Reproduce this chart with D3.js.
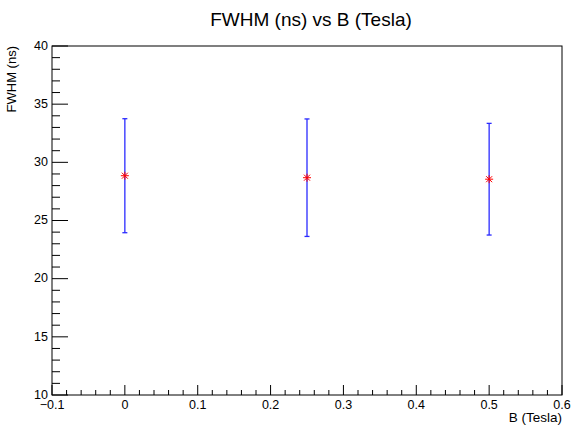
<!DOCTYPE html>
<html>
<head>
<meta charset="utf-8">
<script src="https://cdn.jsdelivr.net/npm/d3@7"></script>
<style>
  body { margin: 0; background: #fff; }
  text { font-family: "Liberation Sans", Arial, sans-serif; fill: #000; }
</style>
</head>
<body>
<svg id="chart"></svg>
<script>
// field values (Tesla) and measured FWHM (ns) with errors
const fieldB = [0, 0.25, 0.5];
const fwhm = [28.85, 28.68, 28.55];
const fwhmErr = [4.9, 5.05, 4.8];

const xTicks = [-0.1, 0, 0.1, 0.2, 0.3, 0.4, 0.5, 0.6];
const yTicks = [10, 15, 20, 25, 30, 35, 40];

const width = 571, height = 426;
const margin = { top: 46, right: 9, bottom: 31, left: 52 };
const innerW = width - margin.left - margin.right;
const innerH = height - margin.top - margin.bottom;

const svg = d3.select("#chart")
  .attr("width", width)
  .attr("height", height);

const xScale = d3.scaleLinear().domain([-0.1, 0.6]).range([0, innerW]);
const yScale = d3.scaleLinear().domain([10, 40]).range([innerH, 0]);

const g = svg.append("g")
  .attr("transform", `translate(${margin.left}, ${margin.top})`);

// frame
g.append("rect")
  .attr("x", 0).attr("y", 0)
  .attr("width", innerW).attr("height", innerH)
  .attr("fill", "none")
  .attr("stroke", "#000")
  .attr("stroke-width", 1);

// x axis: major + minor ticks pointing up
const xMinor = d3.range(-0.1, 0.6001, 0.02).filter(v => Math.abs(Math.round(v * 10) - v * 10) > 1e-6);
const xAxis = g.append("g").attr("transform", `translate(0, ${innerH})`);
xAxis.selectAll(".major").data(xTicks).join("line")
  .attr("x1", d => xScale(d)).attr("x2", d => xScale(d))
  .attr("y1", 0).attr("y2", -10)
  .attr("stroke", "#000");
xAxis.selectAll(".minor").data(xMinor).join("line")
  .attr("class", "minor")
  .attr("x1", d => xScale(d)).attr("x2", d => xScale(d))
  .attr("y1", 0).attr("y2", -5)
  .attr("stroke", "#000");
xAxis.selectAll("text").data(xTicks).join("text")
  .attr("x", d => xScale(d))
  .attr("y", 13.5)
  .attr("text-anchor", "middle")
  .style("font-size", "12.5px")
  .text(d => d === 0 ? "0" : (d < 0 ? "\u22120.1" : d3.format(".1f")(d)));

// y axis: major + minor ticks pointing right
const yMinor = d3.range(10, 40.001, 1).filter(v => v % 5 !== 0);
const yAxis = g.append("g");
yAxis.selectAll(".major").data(yTicks).join("line")
  .attr("x1", 0).attr("x2", 16)
  .attr("y1", d => yScale(d)).attr("y2", d => yScale(d))
  .attr("stroke", "#000");
yAxis.selectAll(".minor").data(yMinor).join("line")
  .attr("class", "minor")
  .attr("x1", 0).attr("x2", 8)
  .attr("y1", d => yScale(d)).attr("y2", d => yScale(d))
  .attr("stroke", "#000");
yAxis.selectAll("text").data(yTicks).join("text")
  .attr("x", -4)
  .attr("y", d => yScale(d))
  .attr("dy", "0.3em")
  .attr("text-anchor", "end")
  .style("font-size", "12.5px")
  .text(d => d);

// error bars
const pts = fieldB.map((b, i) => ({ b: b, v: fwhm[i], e: fwhmErr[i] }));
const bars = g.append("g");
bars.selectAll(".err").data(pts).join("line")
  .attr("x1", d => xScale(d.b)).attr("x2", d => xScale(d.b))
  .attr("y1", d => yScale(d.v + d.e)).attr("y2", d => yScale(d.v - d.e))
  .attr("stroke", "#2a2aff").attr("stroke-width", 1.3);
bars.selectAll(".capTop").data(pts).join("line")
  .attr("class", "capTop")
  .attr("x1", d => xScale(d.b) - 2.5).attr("x2", d => xScale(d.b) + 2.5)
  .attr("y1", d => yScale(d.v + d.e)).attr("y2", d => yScale(d.v + d.e))
  .attr("stroke", "#2a2aff").attr("stroke-width", 1.3);
bars.selectAll(".capBot").data(pts).join("line")
  .attr("class", "capBot")
  .attr("x1", d => xScale(d.b) - 2.5).attr("x2", d => xScale(d.b) + 2.5)
  .attr("y1", d => yScale(d.v - d.e)).attr("y2", d => yScale(d.v - d.e))
  .attr("stroke", "#2a2aff").attr("stroke-width", 1.3);

// star markers
const s = 4;
const marks = g.append("g").selectAll("g").data(pts).join("g")
  .attr("transform", d => `translate(${xScale(d.b)}, ${yScale(d.v)})`);
[[-s, 0, s, 0], [0, -s, 0, s], [-s * 0.75, -s * 0.75, s * 0.75, s * 0.75], [-s * 0.75, s * 0.75, s * 0.75, -s * 0.75]]
  .forEach(l => {
    marks.append("line")
      .attr("x1", l[0]).attr("y1", l[1]).attr("x2", l[2]).attr("y2", l[3])
      .attr("stroke", "#ff0000").attr("stroke-width", 1);
  });

// title and axis labels
svg.append("text")
  .attr("x", 311).attr("y", 26)
  .attr("text-anchor", "middle")
  .style("font-size", "19px")
  .text("FWHM (ns) vs B (Tesla)");

svg.append("text")
  .attr("x", margin.left + innerW).attr("y", 422)
  .attr("text-anchor", "end")
  .style("font-size", "13.5px")
  .text("B (Tesla)");

svg.append("text")
  .attr("transform", `translate(16, ${margin.top}) rotate(-90)`)
  .attr("text-anchor", "end")
  .style("font-size", "13px")
  .text("FWHM (ns)");
</script>
</body>
</html>
